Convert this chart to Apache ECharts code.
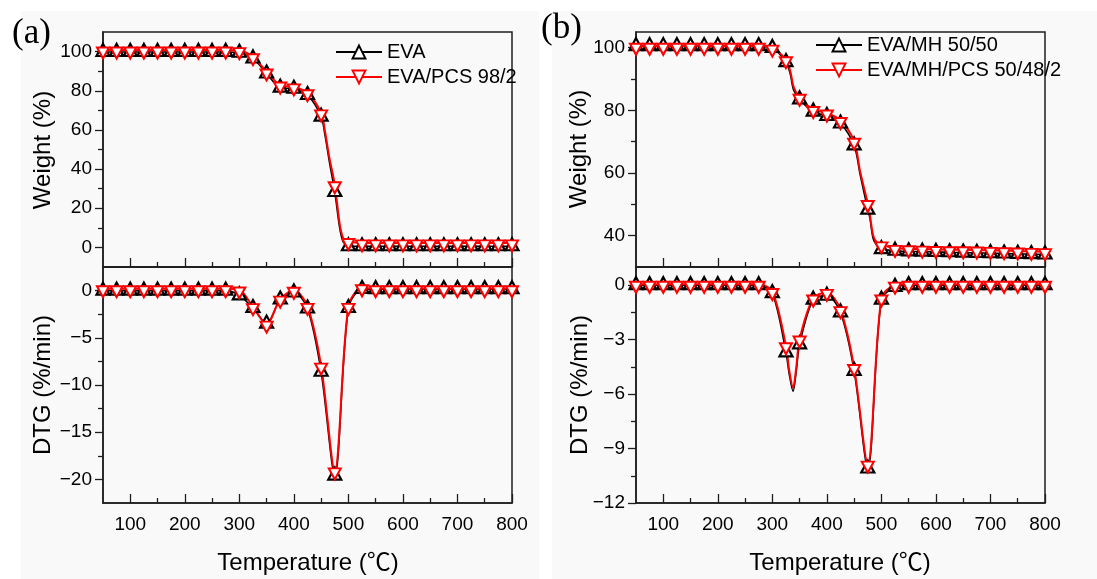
<!DOCTYPE html>
<html>
<head>
<meta charset="utf-8">
<script src="https://cdn.jsdelivr.net/npm/echarts@6/dist/echarts.min.js"></script>
<style>
html,body{margin:0;padding:0;background:#f9f9f9;}
#c{width:1097px;height:579px;}
</style>
</head>
<body>
<div id="c"></div>
<script>
// ---------------- DATA ----------------
const temps = [50,75,100,125,150,175,200,225,250,275,300,325,350,375,400,425,450,475,500,525,550,575,600,625,650,675,700,725,750,775,800];

// Panel (a) weight (%)
const aWeightEVA = [99.8,99.8,99.8,99.8,99.8,99.8,99.8,99.8,99.8,99.8,99.4,96.5,88.8,81.6,81.0,77.8,66.8,28.3,0.6,0.6,0.6,0.6,0.6,0.6,0.6,0.6,0.6,0.6,0.6,0.6,0.6];
const aWeightPCS = [100.8,100.8,100.8,100.8,100.8,100.8,100.8,100.8,100.8,100.8,100.5,97.4,89.6,82.9,82.0,79.0,68.7,32.0,3.0,2.3,2.3,2.3,2.3,2.3,2.3,2.3,2.3,2.3,2.3,2.3,2.3];
const aWeightEVAExtraT = [457,465,484,490,496];
const aWeightEVAExtraV = [57.5,44,10,3,1.2];
const aWeightPCSExtraT = [457,465,484,490,496];
const aWeightPCSExtraV = [59.5,46,12,5,3.2];

// Panel (a) DTG (%/min)
const aDtgEVA = [0,0,0,0,0,0,0,0,0,0,-0.5,-1.85,-3.5,-0.95,-0.2,-1.9,-8.6,-19.6,-1.85,0.17,0.15,0.15,0.15,0.15,0.15,0.15,0.15,0.15,0.15,0.15,0.15];
const aDtgPCS = [0.2,0.2,0.2,0.2,0.2,0.2,0.2,0.2,0.2,0.2,0.07,-1.7,-3.55,-0.9,0.03,-1.67,-8.0,-19.1,-1.67,0.3,0.2,0.2,0.2,0.2,0.2,0.2,0.2,0.2,0.2,0.2,0.2];
const aDtgEVAExtraT = [];
const aDtgEVAExtraV = [];
const aDtgPCSExtraT = [];
const aDtgPCSExtraV = [];

// Panel (b) weight (%)
const bWeightMH = [100.5,100.5,100.5,100.5,100.5,100.5,100.5,100.5,100.5,100.5,99.9,95.4,83.5,79.6,78.2,75.8,68.8,48.3,35.7,35.2,35.0,34.9,34.8,34.7,34.6,34.5,34.4,34.3,34.2,34.1,34.0];
const bWeightPCS = [100.45,100.45,100.45,100.45,100.45,100.45,100.45,100.45,100.45,100.45,99.85,96.15,84.15,80.25,79.15,76.75,70.15,50.25,37.05,35.95,35.8,35.7,35.6,35.5,35.5,35.4,35.3,35.2,35.1,35.0,34.9];
const bWeightMHExtraT = [333,339,461,479,485,492];
const bWeightMHExtraV = [91.5,86.5,59.5,45.5,39,36.8];
const bWeightPCSExtraT = [333,339,461,479,485,492];
const bWeightPCSExtraV = [92.5,87.5,60.5,46.5,40,37.8];

// Panel (b) DTG (%/min)
const bDtgMH = [0,0,0,0,0,0,0,0,0,0,-0.44,-3.7,-3.26,-0.8,-0.58,-1.5,-4.72,-10.1,-0.8,-0.1,0,0,0,0,0,0,0,0,0,0,0];
const bDtgPCS = [0.05,0.05,0.05,0.05,0.05,0.05,0.05,0.05,0.05,0.05,-0.35,-3.34,-2.97,-0.71,-0.4,-1.35,-4.54,-9.86,-0.71,0.0,0.05,0.05,0.05,0.05,0.05,0.05,0.05,0.05,0.05,0.05,0.05];
const bDtgMHExtraT = [331,338,344];
const bDtgMHExtraV = [-4.9,-5.85,-4.7];
const bDtgPCSExtraT = [331,338,344];
const bDtgPCSExtraV = [-4.7,-5.65,-4.5];

// Tick values
const xMajor = [100,200,300,400,500,600,700,800];
const xMinor = [150,250,350,450,550,650,750];
const aWMajor = [0,20,40,60,80,100];
const aWMinor = [10,30,50,70,90];
const aDMajor = [0,-5,-10,-15,-20];
const aDMinor = [-2.5,-7.5,-12.5,-17.5];
const bWMajor = [40,60,80,100];
const bWMinor = [50,70,90];
const bDMajor = [0,-3,-6,-9,-12];
const bDMinor = [-1.5,-4.5,-7.5,-10.5];

const names = {
  aBlack: 'EVA', aRed: 'EVA/PCS 98/2',
  bBlack: 'EVA/MH 50/50', bRed: 'EVA/MH/PCS 50/48/2'
};

// ---------------- CHART ----------------
const FONT = '"Liberation Sans", Arial, "Noto Sans CJK SC", sans-serif';
const AX = '#1e1e1e';

function pairs(vals) { return temps.map((t, i) => [t, vals[i]]); }
function curve(vals, et, ev) {
  const p = pairs(vals).concat(et.map((t, i) => [t, ev[i]]));
  p.sort((a, b) => a[0] - b[0]);
  return p;
}
const grids = [
  {left:103, top:32, width:409, height:235},
  {left:103, top:267, width:409, height:236},
  {left:636, top:32, width:409, height:235},
  {left:636, top:267, width:409, height:236}
].map(g => Object.assign(g, {show:true, borderColor:AX, borderWidth:1.5, backgroundColor:'transparent'}));

const xAxes = [], yAxes = [];
function addX(gi, showLabel) {
  xAxes.push({
    type:'value', gridIndex:gi, position:'bottom', min:50, max:800,
    axisLine:{show:true, onZero:false, lineStyle:{color:AX, width:1.5}},
    axisTick:{show:true, inside:true, length:9, customValues:xMajor, lineStyle:{color:AX, width:1.3}},
    axisLabel:{show:showLabel, customValues:xMajor, fontSize:19, color:'#000', fontFamily:FONT, margin:12},
    splitLine:{show:false}
  });
  xAxes.push({
    type:'value', gridIndex:gi, position:'bottom', min:50, max:800,
    axisLine:{show:false, onZero:false},
    axisTick:{show:true, inside:true, length:5, customValues:xMinor, lineStyle:{color:AX, width:1.3}},
    axisLabel:{show:false}, splitLine:{show:false}
  });
  return xAxes.length - 2;
}
function addY(gi, min, max, major, minor) {
  yAxes.push({
    type:'value', gridIndex:gi, position:'left', min:min, max:max,
    axisLine:{show:true, onZero:false, lineStyle:{color:AX, width:1.5}},
    axisTick:{show:true, inside:false, length:8, customValues:major, lineStyle:{color:AX, width:1.3}},
    axisLabel:{show:true, customValues:major, fontSize:19, color:'#000', fontFamily:FONT, margin:11,
      formatter: v => String(v).replace('-', '\u2212')},
    splitLine:{show:false}
  });
  yAxes.push({
    type:'value', gridIndex:gi, position:'left', min:min, max:max,
    axisLine:{show:false, onZero:false},
    axisTick:{show:true, inside:false, length:5, customValues:minor, lineStyle:{color:AX, width:1.3}},
    axisLabel:{show:false}, splitLine:{show:false}
  });
  return yAxes.length - 2;
}

const xi = [addX(0,false), addX(1,true), addX(2,false), addX(3,true)];
const yi = [
  addY(0, -10, 110, aWMajor, aWMinor),
  addY(1, -22.5, 2.5, aDMajor, aDMinor),
  addY(2, 30, 105, bWMajor, bWMinor),
  addY(3, -12, 1, bDMajor, bDMinor)
];

const series = [];
function addPanel(gi, black, blackET, blackEV, red, redET, redEV, blackName, redName) {
  const common = {xAxisIndex:xi[gi], yAxisIndex:yi[gi], animation:false, silent:true};
  series.push(Object.assign({
    type:'line', name:blackName + ' curve', data:curve(black, blackET, blackEV),
    symbol:'none', smooth:0.3, lineStyle:{color:'#000', width:1.6}
  }, common));
  series.push(Object.assign({
    type:'line', name:blackName, data:pairs(black),
    symbol:'triangle', symbolSize:[13,12], symbolOffset:[0,-2], showAllSymbol:true,
    lineStyle:{color:'#000', width:0},
    itemStyle:{color:'#fff', borderColor:'#000', borderWidth:2.2}
  }, common));
  series.push(Object.assign({
    type:'line', name:redName + ' curve', data:curve(red, redET, redEV),
    symbol:'none', smooth:0.3, lineStyle:{color:'#ff0000', width:2}
  }, common));
  series.push(Object.assign({
    type:'line', name:redName, data:pairs(red),
    symbol:'triangle', symbolRotate:180, symbolSize:[12,11], symbolOffset:[0,3], showAllSymbol:true,
    lineStyle:{color:'#ff0000', width:0},
    itemStyle:{color:'#fff', borderColor:'#ff0000', borderWidth:2}
  }, common));
}
addPanel(0, aWeightEVA, aWeightEVAExtraT, aWeightEVAExtraV, aWeightPCS, aWeightPCSExtraT, aWeightPCSExtraV, names.aBlack, names.aRed);
addPanel(1, aDtgEVA, aDtgEVAExtraT, aDtgEVAExtraV, aDtgPCS, aDtgPCSExtraT, aDtgPCSExtraV, names.aBlack + ' dtg', names.aRed + ' dtg');
addPanel(2, bWeightMH, bWeightMHExtraT, bWeightMHExtraV, bWeightPCS, bWeightPCSExtraT, bWeightPCSExtraV, names.bBlack, names.bRed);
addPanel(3, bDtgMH, bDtgMHExtraT, bDtgMHExtraV, bDtgPCS, bDtgPCSExtraT, bDtgPCSExtraV, names.bBlack + ' dtg', names.bRed + ' dtg');

function legend(left, top, data) {
  return {
    orient:'vertical', left:left, top:top, data:data, padding:0,
    itemWidth:46, itemHeight:16, itemGap:3, selectedMode:false,
    lineStyle:{width:2},
    textStyle:{fontSize:20, color:'#000', fontFamily:FONT, lineHeight:22}
  };
}

function txt(x, y, text, font, rot) {
  return {type:'text', x:x, y:y, rotation:rot||0, silent:true,
    style:{text:text, font:font, fill:'#000', align:'center', verticalAlign:'middle'}};
}
const titleFont = '24px ' + FONT;
const panelFont = '35px "Liberation Serif", "Times New Roman", serif';

const option = {
  backgroundColor:'#f9f9f9',
  animation:false,
  grid:grids,
  xAxis:xAxes,
  yAxis:yAxes,
  legend:[legend(335, 41, [names.aBlack, names.aRed]), legend(815, 34, [names.bBlack, names.bRed])],
  series:series,
  graphic:[
    {type:'rect', shape:{x:0, y:0, width:21, height:579}, style:{fill:'#fff'}, silent:true, z:-10},
    {type:'rect', shape:{x:0, y:0, width:1097, height:11}, style:{fill:'#fff'}, silent:true, z:-10},
    {type:'rect', shape:{x:539, y:0, width:13, height:579}, style:{fill:'#fff'}, silent:true, z:-10},
    {type:'text', left:12, top:16, silent:true, style:{text:'(a)', font:panelFont, fill:'#000'}},
    {type:'text', left:541, top:11, silent:true, style:{text:'(b)', font:panelFont, fill:'#000'}},
    txt(43, 150, 'Weight (%)', titleFont, Math.PI/2),
    txt(43, 385, 'DTG (%/min)', titleFont, Math.PI/2),
    txt(579, 149, 'Weight (%)', titleFont, Math.PI/2),
    txt(580, 385, 'DTG (%/min)', titleFont, Math.PI/2),
    txt(308, 563, 'Temperature (\u2103)', titleFont, 0),
    txt(840, 563, 'Temperature (\u2103)', titleFont, 0)
  ]
};

const chart = echarts.init(document.getElementById('c'), null, {renderer:'canvas'});
chart.setOption(option);
</script>
</body>
</html>
